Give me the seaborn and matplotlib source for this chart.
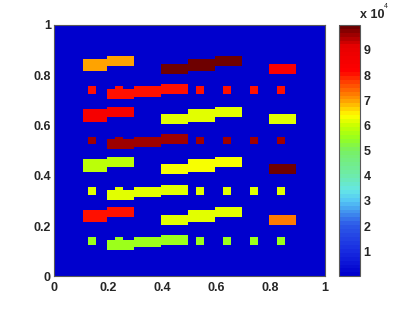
import numpy as np
import matplotlib
matplotlib.use('Agg')
import matplotlib.pyplot as plt
import seaborn as sns
from matplotlib.colors import LinearSegmentedColormap

sns.set_style('white')
plt.rcParams['font.family'] = ['Liberation Sans', 'DejaVu Sans']

# image is a 101 x 101 grid of cells, centres at 0, 0.01, ..., 1
n_cells = 101
band_offsets = [0, 20, 40, 60]

# segments (x_from, x_to, y_from, y_to) as inclusive cell indices, per band
bar_left = [(11, 19, 22, 26), (20, 29, 24, 27)]
bar_mid = [(40, 49, 21, 24), (50, 59, 22, 26), (60, 69, 24, 27)]
bar_right = [(80, 89, 21, 24)]
dot_row = [(13, 15, 13, 15), (20, 29, 11, 14), (23, 25, 15, 15),
           (30, 39, 12, 15), (40, 49, 13, 16), (53, 55, 13, 15),
           (63, 65, 13, 15), (73, 75, 13, 15), (83, 85, 13, 15)]

# values per band, bottom band first
left_values = [8.03e4, 5.9e4, 8.5e4, 6.97e4]
mid_values = [6.15e4, 6.3e4, 6.15e4, 9.97e4]
right_values = [7.32e4, 9.85e4, 6.15e4, 8.4e4]
dot_values = [5.6e4, 6.2e4, 9.6e4, 8.0e4]

ticks = [0, 0.2, 0.4, 0.6, 0.8, 1]
tick_labels = ['0', '0.2', '0.4', '0.6', '0.8', '1']
cbar_ticks = [1, 2, 3, 4, 5, 6, 7, 8, 9]

Z = np.zeros((n_cells, n_cells))
for k, off in enumerate(band_offsets):
    for segs, val in [(bar_left, left_values[k]), (bar_mid, mid_values[k]),
                      (bar_right, right_values[k]), (dot_row, dot_values[k])]:
        for x0, x1, y0, y1 in segs:
            Z[y0 + off:y1 + off + 1, x0:x1 + 1] = val

anchors = [
    (0.00, (0, 0, 205)),
    (0.10, (25, 45, 225)),
    (0.20, (45, 90, 232)),
    (0.30, (85, 200, 245)),
    (0.34, (100, 230, 230)),
    (0.40, (110, 235, 170)),
    (0.50, (120, 240, 100)),
    (0.55, (150, 255, 30)),
    (0.60, (200, 255, 0)),
    (0.64, (255, 255, 0)),
    (0.70, (255, 160, 0)),
    (0.78, (255, 60, 0)),
    (0.82, (255, 0, 0)),
    (0.92, (230, 0, 0)),
    (1.00, (110, 0, 0)),
]
cmap = LinearSegmentedColormap.from_list(
    'custom_jet', [(p, tuple(c / 255 for c in rgb)) for p, rgb in anchors], N=64)

fig = plt.figure(figsize=(4.15, 3.12), dpi=100)
ax = fig.add_axes([0.131, 0.1144, 0.651, 0.806])
cax = fig.add_axes([0.817, 0.1144, 0.0506, 0.806])

sns.heatmap(Z, ax=ax, cbar_ax=cax, cmap=cmap, vmin=0, vmax=1e5,
            xticklabels=False, yticklabels=False)

ax.set_xlim(0.5, 100.5)
ax.set_ylim(0.5, 100.5)
pos = [t * 100 + 0.5 for t in ticks]
ax.set_xticks(pos)
ax.set_yticks(pos)
ax.set_xticklabels(tick_labels, fontsize=9, fontweight='bold', rotation=0)
ax.set_yticklabels(tick_labels, fontsize=9, fontweight='bold', rotation=0)
ax.tick_params(direction='in', length=3, width=0.6, color='0.3',
               top=True, right=True, bottom=True, left=True)
ax.tick_params(axis='x', pad=4)
ax.tick_params(axis='y', pad=2.5)
for s in ax.spines.values():
    s.set_visible(True)
    s.set_color('0.35')
    s.set_linewidth(0.8)

cb = ax.collections[0].colorbar
cb.set_ticks([t * 1e4 for t in cbar_ticks])
cb.set_ticklabels([str(t) for t in cbar_ticks])
cb.outline.set_linewidth(0.8)
cb.outline.set_edgecolor('0.35')
cax.tick_params(direction='in', length=3, width=0.6, color='0.3',
                left=True, right=True, pad=2.5)
for lab in cax.get_yticklabels():
    lab.set_fontsize(9)
    lab.set_fontweight('bold')

fig.text(0.867, 0.941, 'x 10', fontsize=9, fontweight='bold', va='baseline')
fig.text(0.924, 0.973, '4', fontsize=5, va='baseline')

fig.savefig('out.png', dpi=100)
